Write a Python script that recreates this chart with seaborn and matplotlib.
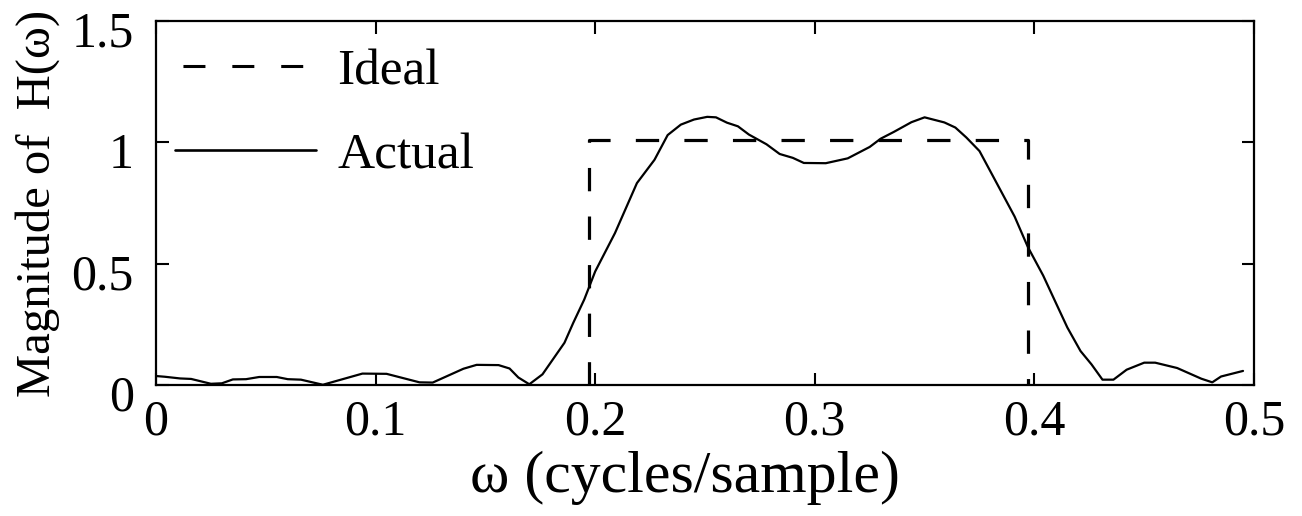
import matplotlib
matplotlib.use("Agg")
import matplotlib.pyplot as plt
import matplotlib.transforms as mtransforms
import seaborn as sns
import pandas as pd

# ---- data ----
omega_actual = [0.000, 0.004, 0.011, 0.016, 0.025, 0.030, 0.035, 0.041, 0.047, 0.055,
                0.060, 0.066, 0.076, 0.094, 0.105, 0.120, 0.126, 0.140, 0.146, 0.156,
                0.161, 0.165, 0.170, 0.176, 0.186, 0.190, 0.195, 0.200, 0.209, 0.219,
                0.227, 0.233, 0.239, 0.245, 0.251, 0.255, 0.260, 0.265, 0.270, 0.278,
                0.284, 0.290, 0.295, 0.305, 0.315, 0.325, 0.330, 0.336, 0.344, 0.350,
                0.359, 0.364, 0.369, 0.375, 0.382, 0.391, 0.397, 0.404, 0.410, 0.415,
                0.421, 0.426, 0.431, 0.436, 0.442, 0.450, 0.455, 0.465, 0.476, 0.481,
                0.485, 0.495]
mag_actual = [0.037, 0.034, 0.027, 0.025, 0.005, 0.007, 0.023, 0.024, 0.033, 0.033,
              0.024, 0.022, 0.001, 0.047, 0.046, 0.011, 0.010, 0.067, 0.083, 0.082,
              0.068, 0.031, 0.003, 0.044, 0.174, 0.256, 0.352, 0.468, 0.626, 0.832,
              0.928, 1.030, 1.073, 1.094, 1.105, 1.103, 1.081, 1.066, 1.032, 0.992,
              0.952, 0.936, 0.915, 0.914, 0.934, 0.981, 1.015, 1.043, 1.083, 1.103,
              1.082, 1.061, 1.020, 0.964, 0.846, 0.694, 0.569, 0.451, 0.334, 0.237,
              0.140, 0.085, 0.022, 0.022, 0.063, 0.092, 0.092, 0.070, 0.026, 0.011,
              0.035, 0.058]

omega_ideal = [0.197, 0.197, 0.397, 0.397]
mag_ideal = [0.0, 1.01, 1.01, 0.0]

x_ticks = [0, 0.1, 0.2, 0.3, 0.4, 0.5]
x_tick_labels = ["0", "0.1", "0.2", "0.3", "0.4", "0.5"]
y_ticks = [0, 0.5, 1, 1.5]
y_tick_labels = ["0", "0.5", "1", "1.5"]

x_label = "ω (cycles/sample)"
y_label = "Magnitude of  H(ω)"
legend_labels = ["Ideal", "Actual"]

# ---- figure ----
sns.set_theme(style="ticks")
plt.rcParams["font.family"] = ["Liberation Serif", "DejaVu Serif"]

fig = plt.figure(figsize=(13.02, 5.16), dpi=100, facecolor="white")
ax = fig.add_axes([156 / 1302, 1 - 385 / 516, (1254 - 156) / 1302, (385 - 21) / 516])
ax.set_facecolor("white")

df_ideal = pd.DataFrame({"omega": omega_ideal, "mag": mag_ideal})
df_actual = pd.DataFrame({"omega": omega_actual, "mag": mag_actual})

sns.lineplot(data=df_ideal, x="omega", y="mag", ax=ax, color="black",
             linewidth=2.3, linestyle=(0, (7.3, 7.9)), estimator=None, sort=False,
             label=legend_labels[0])
sns.lineplot(data=df_actual, x="omega", y="mag", ax=ax, color="black",
             linewidth=1.6, estimator=None, sort=False, label=legend_labels[1])

ax.set_xlim(0, 0.5)
ax.set_ylim(0, 1.5)
ax.set_xticks(x_ticks)
ax.set_xticklabels(x_tick_labels)
ax.set_yticks(y_ticks)
ax.set_yticklabels(y_tick_labels)

for s in ax.spines.values():
    s.set_visible(True)
    s.set_linewidth(1.6)
    s.set_color("black")

ax.tick_params(axis="both", which="major", direction="in", length=9, width=1.5,
               labelsize=36, colors="black", top=True, right=True)
ax.tick_params(axis="x", pad=10)
ax.tick_params(axis="y", pad=16)

# y tick labels sit slightly below their ticks in the reference
shift = mtransforms.ScaledTranslation(0, -8 / 100, fig.dpi_scale_trans)
for lbl in ax.get_yticklabels():
    lbl.set_transform(lbl.get_transform() + shift)

ax.set_xlabel(x_label, fontsize=43, color="black")
ax.xaxis.set_label_coords(0.482, -0.18)
ax.set_ylabel(y_label, fontsize=35, color="black", labelpad=8)

leg = ax.legend(loc="upper left", bbox_to_anchor=(0.017, 0.925), frameon=False,
                fontsize=37, handlelength=2.76, handletextpad=0.4,
                labelspacing=0.72, borderaxespad=0, borderpad=0)
for t in leg.get_texts():
    t.set_color("black")
leg_lines = leg.get_lines()
leg_lines[0].set_linestyle((13.4, (7.2, 8.8)))
leg_lines[0].set_linewidth(2.2)
leg_lines[1].set_linewidth(1.9)

fig.savefig("out.png", dpi=100, facecolor="white")
